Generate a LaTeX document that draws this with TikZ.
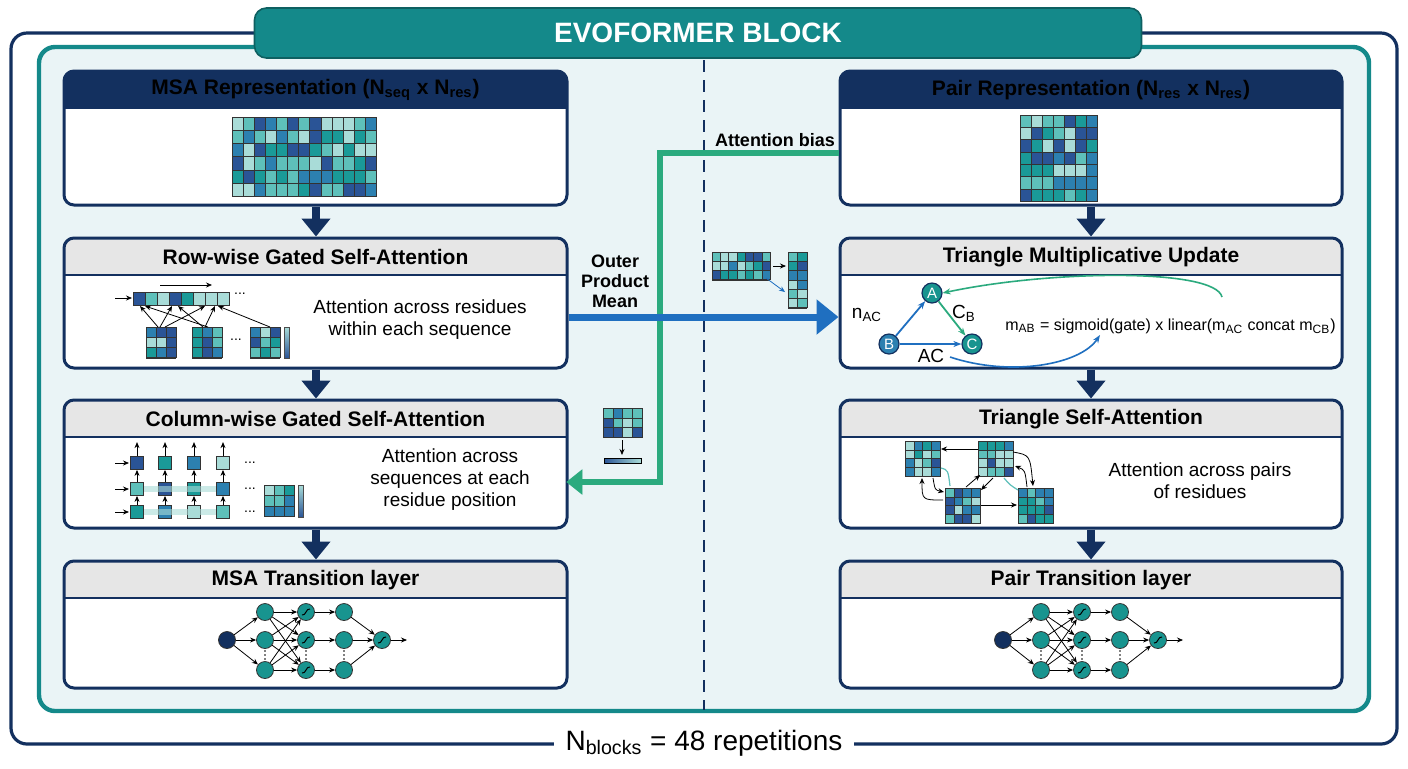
\documentclass[tikz,border=0pt]{standalone}
\usepackage{fontspec}
\setmainfont{Liberation Sans}
\usetikzlibrary{arrows.meta,calc}
\definecolor{navy}{HTML}{13305F}
\definecolor{teal}{HTML}{14898A}
\definecolor{bg}{HTML}{EAF4F6}
\definecolor{hgray}{HTML}{E6E6E6}
\definecolor{grn}{HTML}{2BAA7E}
\definecolor{blu}{HTML}{1F6FC0}
\definecolor{c0}{HTML}{2A5496}
\definecolor{c1}{HTML}{A9DCD8}
\definecolor{c2}{HTML}{1A9A98}
\definecolor{c3}{HTML}{5EC0BA}
\definecolor{c4}{HTML}{2C80B0}
\definecolor{nodec}{HTML}{18948F}
\newcommand\panel[7]{%
  \fill[white,rounded corners=5pt] (#2,#3) rectangle (#4,#5);
  \begin{scope}\clip[rounded corners=5pt] (#2,#3) rectangle (#4,#5);
    \fill[#7] (#2,#3) rectangle (#4,{#3+37});\end{scope}
  \draw[navy,line width=1.3pt] (#2,{#3+37}) -- (#4,{#3+37});
  \node[draw=navy,line width=1.5pt,rounded corners=5pt,inner sep=0pt,
    minimum width={(#4-#2)*0.5pt},minimum height={(#5-#3)*0.5pt}] (#1) at ({(#2+#4)/2},{(#3+#5)/2}) {};
  \node[hdr,text=\ifx#7navy white\else black\fi] at ({(#2+#4)/2},{#3+19}) {#6};}
\newcommand\grid[7]{% x y cols rows cw ch seed
  \pgfmathsetseed{#7}%
  \foreach \i in {1,...,#3}{\foreach \j in {1,...,#4}{%
    \pgfmathrandominteger\k{0}{4}%
    \fill[c\k] ({#1+(\i-1)*#5},{#2+(\j-1)*#6}) rectangle ++(#5,#6);}}
  \foreach \i in {1,...,#3}{\draw[black!80,line width=0.3pt] ({#1+\i*#5},#2) -- ++(0,{#4*#6});}
  \foreach \j in {1,...,#4}{\draw[black!80,line width=0.3pt] (#1,{#2+\j*#6}) -- ++({#3*#5},0);}
  \draw[black!80,line width=0.5pt] (#1,#2) rectangle ({#1+#3*#5},{#2+#4*#6});}
\newcommand\cbar[3]{\shade[top color=c1,bottom color=c0] (#1,#2) rectangle ({#1+5},{#2+#3});\draw[black!70,line width=0.3pt] (#1,#2) rectangle ({#1+5},{#2+#3});}
\newcommand\nnet[2]{% prefix x0
  \node[nn,fill=navy] (#1i) at (#2,640) {};
  \foreach \c/\dx in {a/38,b/79,c/117}{\foreach \r/\y in {1/612,2/640,3/670}{\node[nn] (#1\c\r) at ({#2+\dx},\y) {};}}
  \node[nn] (#1o) at ({#2+155},640) {};
  \foreach \r in {1,2,3}{\draw[ar] (#1i) -- (#1a\r); \draw[ar] (#1c\r) -- (#1o); \draw[ar] (#1b\r) -- (#1c\r);
    \foreach \s in {1,2,3}{\draw[ar] (#1a\r) -- (#1b\s);}
    \draw[line width=0.5pt] ($(#1b\r)+(-4,3)$) .. controls ($(#1b\r)+(0,4)$) and ($(#1b\r)+(0,-4)$) .. ($(#1b\r)+(4,-3)$);}
  \draw[line width=0.5pt] ($(#1o)+(-4,3)$) .. controls ($(#1o)+(0,4)$) and ($(#1o)+(0,-4)$) .. ($(#1o)+(4,-3)$);
  \coordinate (#1e) at ({#2+180},640);
  \draw[ar] (#1o) -- (#1e);
  \foreach \dx in {38,79,117}{\foreach \dy in {651,655,659}{\fill ({#2+\dx},\dy) circle (0.45pt);}}}
\tikzset{
  hdr/.style={font=\bfseries\fontsize{10.5}{12}\selectfont,inner sep=0pt},
  txt/.style={font=\fontsize{9.5}{11}\selectfont,align=center,inner sep=0pt},
  nn/.style={circle,draw=black!80,line width=0.4pt,fill=nodec,minimum size=8.5pt,inner sep=0pt},
  ar/.style={-{Stealth[length=3pt,width=2.5pt]},line width=0.4pt},
  big/.style={-{Triangle[length=9pt,width=14pt]},line width=4pt,navy},
  tn/.style={circle,draw=navy,line width=0.6pt,minimum size=10pt,inner sep=0pt,text=white,font=\fontsize{7.5}{8}\selectfont},
}
\begin{document}
\begin{tikzpicture}[x=0.5pt,y=-0.5pt]
\useasboundingbox (0,0) rectangle (1408,768);
\fill[white] (0,0) rectangle (1408,768);
\draw[navy,line width=1.6pt,rounded corners=8pt] (11,33) rectangle (1397,744);
\node[fill=white,inner xsep=6pt,font=\fontsize{14}{16}\selectfont] (nb) at (704,743) {N\textsubscript{blocks} = 48 repetitions};
\draw[teal,line width=2.2pt,fill=bg,rounded corners=8pt] (39,47) rectangle (1369,711);
\node[fill=teal,draw=teal!70!black,line width=0.8pt,rounded corners=6pt,minimum width=443.5pt,minimum height=25pt,text=white,font=\bfseries\fontsize{14}{16}\selectfont] (title) at (698,33) {EVOFORMER BLOCK};
\draw[navy,line width=1pt,dash pattern=on 6pt off 4pt] (704,60) -- (704,710);
\panel{msa}{64}{71}{567}{205}{MSA Representation (N\textsubscript{seq} x N\textsubscript{res})}{navy}
\panel{row}{64}{238}{567}{368}{Row-wise Gated Self-Attention}{hgray}
\panel{col}{64}{400}{567}{528}{Column-wise Gated Self-Attention}{hgray}
\panel{mtr}{64}{561}{567}{688}{MSA Transition layer}{hgray}
\panel{pair}{840}{71}{1342}{205}{Pair Representation (N\textsubscript{res} x N\textsubscript{res})}{navy}
\panel{tmu}{840}{238}{1342}{368}{Triangle Multiplicative Update}{hgray}
\panel{tsa}{840}{400}{1342}{528}{Triangle Self-Attention}{hgray}
\panel{ptr}{840}{561}{1342}{688}{Pair Transition layer}{hgray}
\foreach \a/\b/\x in {msa/row/316,row/col/316,col/mtr/316,pair/tmu/1091,tmu/tsa/1091,tsa/ptr/1091}{
  \draw[big] (\a.south -| \x,0) -- (\b.north -| \x,0);}
\grid{232}{117}{13}{6}{11.1}{13.2}{11}
\grid{1020}{115}{7}{7}{11}{12.3}{23}
% row-wise
\grid{133}{292}{8}{1}{12}{13}{5}
\draw[ar] (115,298) -- (132,298);
\draw[ar] (160,285) -- (212,285);
\node[inner sep=0,font=\fontsize{7}{7}\selectfont] at (240,294) {...};
\grid{146}{327}{3}{3}{10}{10.3}{44}
\grid{192}{327}{3}{3}{10}{10.3}{7}
\grid{250}{327}{3}{3}{10}{10.3}{19}
\node[inner sep=0,font=\fontsize{7}{7}\selectfont] at (236,340) {...};
\cbar{284}{327}{31}
\foreach \s/\t in {158/140,160/172,165/205,203/178,205/215,208/145,270/218}{\draw[ar] (\s,327) -- (\t,306);}
\node[txt] at (420,320) {Attention across residues\\within each sequence};
% column-wise
\foreach \cx/\k in {137/0,165/2,194/4,223/1}{
  \foreach \cy/\kk in {463/0,489/3,512/2}{
    \pgfmathtruncatemacro\q{mod(\k+\kk,5)}
    \node[draw=black!80,line width=0.4pt,fill=c\q,minimum size=6.5pt,inner sep=0] (q\cx\cy) at (\cx,\cy) {};}
  \draw[ar] (q\cx463.north) -- ++(0,-14);
  \draw[ar] (q\cx489.north) -- (q\cx463.south);
  \draw[ar] (q\cx512.north) -- (q\cx489.south);}
\foreach \cy in {489,512}{\fill[c1,opacity=0.6] (144,{\cy-3}) rectangle (216,{\cy+3});}
\foreach \cy in {463,489,512}{\draw[ar] (115,\cy) -- (129,\cy); \node[inner sep=0,font=\fontsize{7}{7}\selectfont] at (250,\cy) {...};}
\grid{264}{485}{3}{3}{10}{10.5}{31}
\cbar{298}{485}{32}
\node[txt] at (450,480) {Attention across\\sequences at each\\residue position};
\nnet{L}{227}
\nnet{R}{1003}
% middle connectors
\coordinate (gb) at (660,153);
\coordinate (gc) at (660,482);
\draw[grn,line width=3pt] (pair.west |- gb) -- (gb) -- (gc) -- (578,482);
\draw[grn,fill=grn] (567,482) -- (582,470) -- (582,494) -- cycle;
\node[font=\bfseries\fontsize{9}{10}\selectfont,inner sep=0] at (775,140) {Attention bias};
\draw[blu,line width=3.5pt,-{Triangle[length=11pt,width=17pt]}] (row.east |- 0,317) -- (tmu.west |- 0,317);
\node[font=\bfseries\fontsize{9}{10}\selectfont,align=center,inner sep=0] at (615,281) {Outer\\Product\\Mean};
\grid{712}{252}{7}{3}{8.3}{9.3}{3}
\grid{788}{252}{2}{6}{9.5}{9.3}{8}
\draw[ar] (773,266) -- (786,266);
\draw[ar,blu] (766,278) -- (785,292);
\grid{603}{408}{4}{3}{9.8}{9.8}{13}
\draw[ar] (622,440) -- (622,455);
\shade[left color=c0,right color=c1] (604,458) rectangle (641,463);
\draw[line width=0.3pt] (604,458) rectangle (641,463);
% triangle update
\node[tn,fill=nodec] (A) at (932,293) {A};
\node[tn,fill=c4] (B) at (889,344) {B};
\node[tn,fill=nodec] (C) at (972,344) {C};
\draw[blu,line width=0.9pt,-{Stealth[length=4pt]}] (B) -- (A);
\draw[grn,line width=0.9pt,-{Stealth[length=4pt]}] (A) -- (C);
\draw[blu,line width=0.9pt,-{Stealth[length=4pt]}] (B) -- (C);
\node[txt] at (867,315) {n\textsubscript{AC}};
\node[txt] at (964,313) {C\textsubscript{B}};
\node[txt] at (931,356) {AC};
\node[txt,font=\fontsize{8}{10}\selectfont,anchor=west] (form) at (1005,326) {m\textsubscript{AB} = sigmoid(gate) x linear(m\textsubscript{AC} concat m\textsubscript{CB})};
\draw[grn,line width=0.8pt,-{Stealth[length=4pt]}] (1222,297) .. controls (1215,268) and (1050,270) .. (A.east);
\draw[blu,line width=0.8pt,-{Stealth[length=4pt]}] (950,357) .. controls (1010,377) and (1080,365) .. (1100,335);
% triangle self-attention
\grid{905}{441}{4}{4}{8.8}{8.8}{51}
\grid{978}{441}{4}{4}{8.8}{8.8}{52}
\grid{945}{488}{4}{4}{8.8}{8.8}{53}
\grid{1018}{488}{4}{4}{8.8}{8.8}{54}
\draw[ar] (978,449) -- (941,449);
\draw[ar] (981,505) -- (1017,505);
\draw[ar] (1013,452) .. controls (1030,455) .. (1033,486);
\draw[ar] (1027,487) .. controls (1025,470) .. (1015,466);
\draw[ar] (943,500) .. controls (922,500) .. (922,478);
\draw[ar] (933,478) .. controls (935,490) .. (944,492);
\draw[ar] (966,487) -- (980,475);
\draw[ar] (993,478) -- (981,490);
\draw[c3,line width=0.6pt] (941,468) .. controls (948,470) .. (950,486);
\draw[c3,line width=0.6pt] (1004,478) .. controls (1010,485) .. (1018,490);
\node[txt] at (1200,481) {Attention across pairs\\of residues};
\end{tikzpicture}
\end{document}
